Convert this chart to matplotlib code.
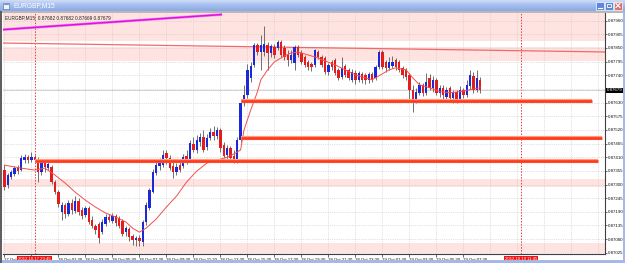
import matplotlib
matplotlib.use("Agg")
import matplotlib.pyplot as plt
import matplotlib.transforms as mtransforms
from matplotlib.patches import Rectangle
from matplotlib.colors import LinearSegmentedColormap
import numpy as np

plt.rcParams["font.family"] = ["Liberation Sans", "DejaVu Sans"]

# ---------------- data ----------------
symbol = "EURGBP,M15"
header_ohlc = ["0.87682", "0.87682", "0.87669", "0.87679"]

opens = [0.87358, 0.87298, 0.87330, 0.87342, 0.87366, 0.87358, 0.87398, 0.87410, 0.87398, 0.87410,
         0.87402, 0.87350, 0.87386, 0.87366, 0.87370, 0.87310, 0.87269, 0.87189, 0.87217, 0.87181,
         0.87225, 0.87193, 0.87233, 0.87197, 0.87177, 0.87205, 0.87157, 0.87132, 0.87141, 0.87108,
         0.87141, 0.87169, 0.87153, 0.87173, 0.87165, 0.87153, 0.87108, 0.87120, 0.87092, 0.87076,
         0.87084, 0.87068, 0.87149, 0.87205, 0.87269, 0.87346, 0.87374, 0.87378, 0.87427, 0.87406,
         0.87374, 0.87350, 0.87378, 0.87374, 0.87415, 0.87398, 0.87463, 0.87439, 0.87471, 0.87491,
         0.87451, 0.87487, 0.87511, 0.87495, 0.87519, 0.87459, 0.87419, 0.87447, 0.87415, 0.87398,
         0.87479, 0.87630, 0.87662, 0.87730, 0.87782, 0.87862, 0.87834, 0.87834, 0.87862, 0.87830,
         0.87854, 0.87850, 0.87874, 0.87850, 0.87822, 0.87802, 0.87790, 0.87854, 0.87830, 0.87814,
         0.87794, 0.87786, 0.87782, 0.87834, 0.87814, 0.87810, 0.87754, 0.87794, 0.87802, 0.87762,
         0.87734, 0.87778, 0.87762, 0.87722, 0.87750, 0.87722, 0.87746, 0.87742, 0.87722, 0.87746,
         0.87730, 0.87774, 0.87834, 0.87794, 0.87770, 0.87778, 0.87802, 0.87794, 0.87770, 0.87762,
         0.87742, 0.87682, 0.87642, 0.87670, 0.87702, 0.87670, 0.87730, 0.87690, 0.87722, 0.87670,
         0.87690, 0.87654, 0.87690, 0.87650, 0.87674, 0.87642, 0.87682, 0.87662, 0.87698, 0.87738,
         0.87682, 0.87722]
closes = [0.87290, 0.87338, 0.87350, 0.87366, 0.87354, 0.87406, 0.87410, 0.87398, 0.87410, 0.87398,
          0.87350, 0.87386, 0.87370, 0.87382, 0.87310, 0.87269, 0.87221, 0.87217, 0.87181, 0.87225,
          0.87197, 0.87233, 0.87189, 0.87173, 0.87205, 0.87149, 0.87132, 0.87116, 0.87084, 0.87149,
          0.87169, 0.87157, 0.87173, 0.87145, 0.87132, 0.87100, 0.87124, 0.87088, 0.87076, 0.87084,
          0.87072, 0.87149, 0.87217, 0.87278, 0.87350, 0.87378, 0.87386, 0.87419, 0.87406, 0.87366,
          0.87350, 0.87370, 0.87358, 0.87410, 0.87390, 0.87467, 0.87439, 0.87479, 0.87491, 0.87439,
          0.87487, 0.87511, 0.87495, 0.87519, 0.87447, 0.87415, 0.87447, 0.87406, 0.87398, 0.87479,
          0.87630, 0.87662, 0.87762, 0.87778, 0.87862, 0.87834, 0.87862, 0.87866, 0.87830, 0.87858,
          0.87822, 0.87874, 0.87822, 0.87814, 0.87802, 0.87822, 0.87854, 0.87822, 0.87794, 0.87782,
          0.87774, 0.87774, 0.87842, 0.87814, 0.87782, 0.87754, 0.87782, 0.87774, 0.87750, 0.87730,
          0.87770, 0.87742, 0.87730, 0.87754, 0.87722, 0.87750, 0.87722, 0.87722, 0.87746, 0.87726,
          0.87774, 0.87834, 0.87774, 0.87770, 0.87794, 0.87794, 0.87774, 0.87762, 0.87742, 0.87734,
          0.87682, 0.87642, 0.87674, 0.87702, 0.87670, 0.87714, 0.87690, 0.87722, 0.87670, 0.87690,
          0.87662, 0.87682, 0.87650, 0.87670, 0.87642, 0.87682, 0.87662, 0.87702, 0.87742, 0.87682,
          0.87730, 0.87679]
highs = [0.87378, 0.87346, 0.87358, 0.87374, 0.87378, 0.87419, 0.87423, 0.87419, 0.87431, 0.87419,
         0.87410, 0.87398, 0.87394, 0.87390, 0.87378, 0.87318, 0.87278, 0.87229, 0.87225, 0.87237,
         0.87241, 0.87253, 0.87245, 0.87209, 0.87213, 0.87213, 0.87173, 0.87141, 0.87149, 0.87161,
         0.87181, 0.87181, 0.87185, 0.87181, 0.87173, 0.87161, 0.87132, 0.87128, 0.87100, 0.87092,
         0.87096, 0.87157, 0.87229, 0.87286, 0.87362, 0.87398, 0.87406, 0.87439, 0.87439, 0.87419,
         0.87390, 0.87386, 0.87398, 0.87423, 0.87439, 0.87479, 0.87491, 0.87499, 0.87507, 0.87519,
         0.87503, 0.87527, 0.87535, 0.87531, 0.87527, 0.87471, 0.87459, 0.87455, 0.87439, 0.87491,
         0.87642, 0.87702, 0.87786, 0.87794, 0.87870, 0.87870, 0.87902, 0.87939, 0.87874, 0.87866,
         0.87866, 0.87882, 0.87882, 0.87862, 0.87842, 0.87842, 0.87862, 0.87862, 0.87842, 0.87822,
         0.87802, 0.87794, 0.87846, 0.87842, 0.87822, 0.87818, 0.87790, 0.87802, 0.87810, 0.87770,
         0.87814, 0.87786, 0.87770, 0.87766, 0.87762, 0.87758, 0.87754, 0.87750, 0.87754, 0.87754,
         0.87782, 0.87842, 0.87842, 0.87802, 0.87814, 0.87818, 0.87810, 0.87802, 0.87778, 0.87770,
         0.87750, 0.87702, 0.87690, 0.87714, 0.87710, 0.87750, 0.87746, 0.87738, 0.87730, 0.87702,
         0.87702, 0.87694, 0.87698, 0.87682, 0.87682, 0.87698, 0.87690, 0.87722, 0.87762, 0.87754,
         0.87762, 0.87734]
lows = [0.87278, 0.87286, 0.87322, 0.87334, 0.87342, 0.87354, 0.87386, 0.87386, 0.87390, 0.87386,
        0.87310, 0.87338, 0.87350, 0.87358, 0.87302, 0.87261, 0.87209, 0.87157, 0.87165, 0.87173,
        0.87181, 0.87185, 0.87177, 0.87161, 0.87169, 0.87141, 0.87124, 0.87100, 0.87064, 0.87100,
        0.87132, 0.87149, 0.87145, 0.87132, 0.87124, 0.87092, 0.87092, 0.87072, 0.87056, 0.87052,
        0.87052, 0.87052, 0.87137, 0.87197, 0.87265, 0.87338, 0.87358, 0.87370, 0.87382, 0.87358,
        0.87326, 0.87338, 0.87350, 0.87366, 0.87382, 0.87390, 0.87431, 0.87427, 0.87455, 0.87431,
        0.87439, 0.87479, 0.87479, 0.87483, 0.87431, 0.87406, 0.87398, 0.87390, 0.87386, 0.87386,
        0.87471, 0.87618, 0.87650, 0.87714, 0.87774, 0.87822, 0.87762, 0.87818, 0.87762, 0.87814,
        0.87810, 0.87842, 0.87814, 0.87802, 0.87778, 0.87790, 0.87762, 0.87814, 0.87786, 0.87774,
        0.87762, 0.87758, 0.87774, 0.87806, 0.87774, 0.87746, 0.87742, 0.87762, 0.87742, 0.87722,
        0.87726, 0.87734, 0.87722, 0.87714, 0.87706, 0.87714, 0.87710, 0.87706, 0.87710, 0.87714,
        0.87722, 0.87766, 0.87766, 0.87754, 0.87762, 0.87770, 0.87762, 0.87754, 0.87730, 0.87722,
        0.87642, 0.87594, 0.87630, 0.87662, 0.87658, 0.87662, 0.87682, 0.87674, 0.87662, 0.87654,
        0.87642, 0.87642, 0.87634, 0.87630, 0.87630, 0.87634, 0.87650, 0.87654, 0.87686, 0.87670,
        0.87674, 0.87670]

ma_bars = [0, 5, 9, 12, 15, 18, 21, 24, 27, 30, 33, 36, 38, 40, 42, 45, 48, 51, 54, 57,
           60, 63, 66, 68, 70, 71, 73, 75, 76, 78, 80, 83, 85, 87, 89, 92, 95, 98, 101, 104,
           107, 109, 111, 114, 116, 119, 121, 123, 126, 129, 132, 135, 138, 141]
ma_values = [0.87378, 0.87366, 0.87358, 0.87366, 0.87338, 0.87306, 0.87269, 0.87237, 0.87209, 0.87185,
             0.87169, 0.87149, 0.87124, 0.87108, 0.87124, 0.87161, 0.87209, 0.87253, 0.87310, 0.87354,
             0.87386, 0.87398, 0.87410, 0.87423, 0.87439, 0.87519, 0.87600, 0.87674, 0.87722, 0.87762,
             0.87794, 0.87818, 0.87830, 0.87834, 0.87826, 0.87814, 0.87798, 0.87782, 0.87762, 0.87742,
             0.87730, 0.87722, 0.87738, 0.87762, 0.87770, 0.87762, 0.87730, 0.87702, 0.87690, 0.87674,
             0.87670, 0.87674, 0.87682, 0.87690]

price_ticks = [0.87025, 0.87080, 0.87135, 0.87190, 0.87245, 0.87300, 0.87355, 0.87410, 0.87465,
               0.87520, 0.87575, 0.87630, 0.87685, 0.87740, 0.87795, 0.87850, 0.87905, 0.87960]
price_labels = ["0.87025", "0.87080", "0.87135", "0.87190", "0.87245", "0.87300", "0.87355",
                "0.87410", "0.87465", "0.87520", "0.87575", "0.87630", "", "0.87740",
                "0.87795", "0.87850", "0.87905", "0.87960"]
time_tick_bars = [0, 8, 16, 24, 32, 40, 48, 56, 64, 72, 80, 88, 96, 104, 112, 120, 128, 136]
time_tick_labels = ["17 Oct", "", "18 Oct 01:30", "18 Oct 03:30", "18 Oct 05:30",
                    "18 Oct 07:30", "18 Oct 09:30", "18 Oct 11:30", "18 Oct 13:30", "18 Oct 15:30",
                    "18 Oct 17:30", "18 Oct 19:30", "18 Oct 21:30", "18 Oct 23:30", "19 Oct 01:30",
                    "19 Oct 03:30", "19 Oct 05:30", "19 Oct 07:30"]

level_prices = [0.87638, 0.87489, 0.87396]
level_start = [70, 70, 9]
level_end = [174, 177, 176]

zone_low = [0.87878, 0.87798, 0.87290, 0.87024]
zone_high = [0.88010, 0.87854, 0.87322, 0.87064]

magenta_bars = [-0.4, 64.5]
magenta_prices = [0.87924, 0.87985]
trend_bars = [-0.4, 178]
trend_prices = [0.87870, 0.87834]

vline_bars = [9, 153]
vline_labels = ["2012.10.17 23:45", "2012.10.19 11:45"]

current_price = 0.87679

# ---------------- figure ----------------
W, H = 625, 263
fig = plt.figure(figsize=(W / 100, H / 100), dpi=100)
fig.patch.set_facecolor("white")


def fr(x0, y0, x1, y1):
    return [x0 / W, 1 - y1 / H, (x1 - x0) / W, (y1 - y0) / H]


# title bar
tb = fig.add_axes(fr(0, 0, W, 11))
grad = np.linspace(0, 1, 30).reshape(-1, 1)
cmap = LinearSegmentedColormap.from_list("tb", ["#cfdcf6", "#a3bdee", "#8aa9e6"])
tb.imshow(grad, aspect="auto", cmap=cmap, extent=[0, W, 11, 0])
tb.set_xlim(0, W)
tb.set_ylim(11, 0)
tb.axis("off")
tb.add_patch(Rectangle((3, 2.5), 6, 6, fc="#eef2fa", ec="#4a6aa0", lw=0.4))
tb.plot([4, 8], [4.2, 4.2], color="#4a6aa0", lw=0.5)
tb.text(13, 5.8, symbol, color="white", fontsize=4.8, va="center", ha="left")
for x0, fc in [(596, "#5b87dd"), (605, "#5b87dd"), (614, "#d8756e")]:
    tb.add_patch(Rectangle((x0, 1.5), 8, 8, fc=fc, ec="white", lw=0.5))
tb.plot([598, 602], [7.5, 7.5], color="white", lw=0.8)
tb.add_patch(Rectangle((607.2, 3.5), 3.6, 3.8, fc="none", ec="white", lw=0.6))
tb.plot([616, 620], [3.5, 7.5], color="white", lw=0.8)
tb.plot([616, 620], [7.5, 3.5], color="white", lw=0.8)

# window frame pieces
fig.patches.append(Rectangle((0, 1 - 13 / H), 1, 2 / H, transform=fig.transFigure,
                             fc="#b8b8b8", ec="none"))
fig.patches.append(Rectangle((0, 0), 1, 3 / H, transform=fig.transFigure,
                             fc="#a8b8e6", ec="none"))
fig.patches.append(Rectangle((0, 0), 2 / W, 1 - 11 / H, transform=fig.transFigure,
                             fc="#606060", ec="none"))
fig.patches.append(Rectangle((1 - 2 / W, 0), 2 / W, 1 - 11 / H, transform=fig.transFigure,
                             fc="#a8b8e6", ec="none"))

# main chart
ax = fig.add_axes(fr(3, 13, 605, 254))
ax.set_facecolor("white")
px_per_bar = 3.375
ax.set_xlim(-0.4, -0.4 + 602 / px_per_bar)
ax.set_ylim(0.87020, 0.87991)

for lo, hi in zip(zone_low, zone_high):
    ax.axhspan(lo, hi, color="#ffe3e0", lw=0, zorder=0)

grid_kw = dict(color="#c6c6c6", lw=0.5, ls=(0, (1, 1.6)), zorder=0.5)
for p in price_ticks:
    ax.axhline(p, **grid_kw)
for b in np.arange(0, 178, 8):
    ax.axvline(b, **grid_kw)

for b in vline_bars:
    ax.axvline(b, color="#e83a3a", lw=0.7, ls=(0, (1.5, 1.5)), zorder=1)

ax.axhline(current_price, color="#c0c0c0", lw=0.5, zorder=1)

ax.plot(trend_bars, trend_prices, color="#f06a6a", lw=0.9, zorder=2)
ax.plot(magenta_bars, magenta_prices, color="#f08cf0", lw=2.0, zorder=2,
        solid_capstyle="butt")
ax.plot(magenta_bars, magenta_prices, color="#e010e0", lw=1.1, zorder=2.1,
        solid_capstyle="butt")

o = np.array(opens)
c = np.array(closes)
h = np.array(highs)
l = np.array(lows)
x = np.arange(len(o))
up = c >= o
ax.vlines(x, l, h, color="#5a5a5a", lw=0.6, zorder=3)
blo = np.minimum(o, c)
bh = np.maximum(np.abs(c - o), 0.00002)
ax.bar(x[up], bh[up], bottom=blo[up], width=0.72, color="#1a2ad8", lw=0, zorder=4)
ax.bar(x[~up], bh[~up], bottom=blo[~up], width=0.72, color="#e41c1c", lw=0, zorder=4)

ax.plot(ma_bars, ma_values, color="#f05050", lw=0.7, zorder=5)

for p, s, e in zip(level_prices, level_start, level_end):
    ax.plot([s, e], [p, p], color="#ff9c80", lw=3.0, solid_capstyle="butt", zorder=6)
    ax.plot([s, e], [p, p], color="#ff3a1a", lw=1.9, solid_capstyle="butt", zorder=6.1)

ax.text(0.004, 0.99, symbol + "  " + " ".join(header_ohlc), transform=ax.transAxes,
        fontsize=3.4, va="top", ha="left", color="#202020", zorder=10)

# axes styling
for side in ["left", "top"]:
    ax.spines[side].set_visible(False)
ax.spines["right"].set_color("#404040")
ax.spines["bottom"].set_color("#404040")
ax.spines["right"].set_linewidth(0.8)
ax.spines["bottom"].set_linewidth(0.8)

ax.yaxis.tick_right()
ax.set_yticks(price_ticks)
ax.set_yticklabels(price_labels, fontsize=3.2, color="#101010")
ax.tick_params(axis="y", length=1.5, width=0.5, pad=0.8, colors="#303030")

ax.set_xticks(time_tick_bars)
ax.set_xticklabels(time_tick_labels, fontsize=3.1, color="#101010")
ax.tick_params(axis="x", length=2, width=0.5, pad=0.8, colors="#303030")
for lbl in ax.get_xticklabels():
    lbl.set_ha("left")
    lbl.set_color("#101010")
for lbl in ax.get_yticklabels():
    lbl.set_color("#101010")

tr_x = mtransforms.blended_transform_factory(ax.transData, ax.transAxes)
for b, txt in zip(vline_bars, vline_labels):
    ax.text(b, -0.012, txt, transform=tr_x, ha="center", va="top", fontsize=3.1,
            color="white", zorder=20, clip_on=False,
            bbox=dict(boxstyle="square,pad=0.25", fc="#ee1414", ec="none"))

tr_y = mtransforms.blended_transform_factory(ax.transAxes, ax.transData)
ax.text(1.003, current_price, f"{current_price:.5f}", transform=tr_y, ha="left",
        va="center", fontsize=3.2, color="white", zorder=20, clip_on=False,
        bbox=dict(boxstyle="square,pad=0.2", fc="black", ec="none"))

fig.savefig("out.png", dpi=100)
